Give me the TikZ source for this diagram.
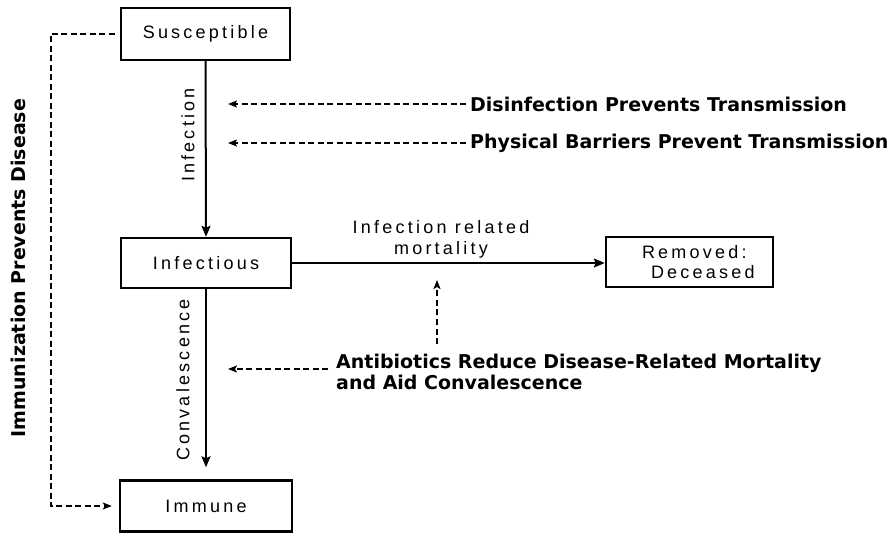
\documentclass[tikz,border=0pt]{standalone}
\usepackage{fontspec}
\setmainfont{Liberation Sans}
\newfontfamily\boxfont[LetterSpace=18]{Liberation Sans}
\newfontfamily\notefont{DejaVu Sans}
\usetikzlibrary{arrows.meta}

\tikzset{
  statebox/.style={draw, line width=2.4pt, font=\boxfont\fontsize{18}{20}\selectfont, inner sep=0pt},
  flowlabel/.style={font=\boxfont\fontsize{18}{21}\selectfont, inner sep=0pt},
  notelabel/.style={font=\notefont\bfseries\fontsize{19}{21}\selectfont, inner sep=0pt},
  solidarr/.style={line width=2pt, -{Stealth[length=11pt,width=9pt,inset=2pt]}},
  dasharr/.style={line width=1.7pt, dash pattern=on 6pt off 3.5pt, -{Stealth[length=9pt,width=7pt,inset=2pt]}}
}

\begin{document}
\begin{tikzpicture}[x=1pt,y=-1pt]
\useasboundingbox (0,0) rectangle (896,534);

% compartments
\node[statebox, minimum width=169pt, minimum height=52pt] (sus) at (205.5,34) {Susceptible};
\node[statebox, minimum width=170pt, minimum height=50pt] (inf) at (206,263) {Infectious};
\node[statebox, minimum width=172pt, minimum height=51pt] (imm) at (206,506) {Immune};
\node[statebox, minimum height=50pt, text width=167pt, align=left] (rem) at (689.5,262)
  {\hspace*{36pt}Removed:\\\hspace*{45pt}Deceased};

% transitions
\draw[solidarr] (sus.south) -- (inf.north);
\draw[solidarr, shorten >=12pt] (inf.south) -- (imm.north);
\draw[solidarr] (inf.east) -- (inf.east -| rem.west);

\node[flowlabel, rotate=90] (lblinf) at (188,135) {Infection};
\node[flowlabel, rotate=90] (lblcon) at (183,380) {Convalescence};
\node[flowlabel, align=center] (lblmort) at (441,239) {Infection related\\mortality};

% interventions
\node[notelabel, anchor=west] (dis) at (470,104) {Disinfection Prevents Transmission};
\node[notelabel, anchor=west] (phy) at (470,143) {Physical Barriers Prevent Transmission};
\node[notelabel, anchor=west, align=left] (abx) at (336,372)
  {Antibiotics Reduce Disease-Related Mortality\\and Aid Convalescence};
\node[notelabel, rotate=90] (imz) at (18,268) {Immunization Prevents Disease};

\coordinate (tdis) at (228,104);
\coordinate (tphy) at (228,143);
\coordinate (tabx) at (228,369);
\coordinate (sabx) at (328,369);
\coordinate (mort0) at (437,344);
\coordinate (mort1) at (437,280);

\draw[dasharr] ([xshift=-4pt]dis.west) -- (tdis);
\draw[dasharr] ([xshift=-4pt]phy.west) -- (tphy);
\draw[dasharr] (sabx) -- (tabx);
\draw[dasharr] (mort0) -- (mort1);
\draw[dasharr, shorten <=5pt, shorten >=7pt] (sus.west) -- ++(-69,0) |- (imm.west);
\end{tikzpicture}
\end{document}
